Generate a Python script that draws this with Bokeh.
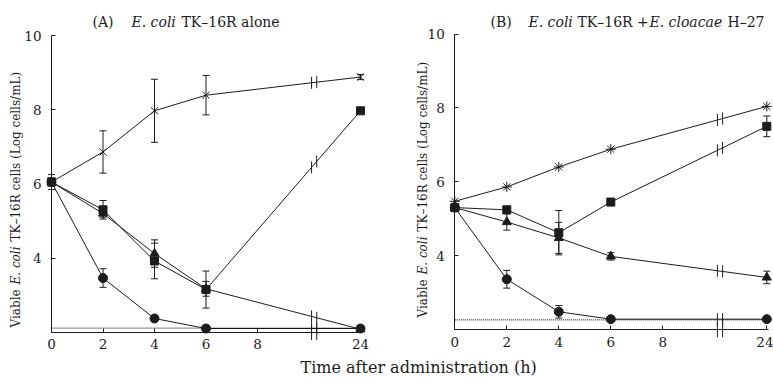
import numpy as np
from bokeh.plotting import figure
from bokeh.layouts import row, column
from bokeh.models import FixedTicker, Label, Range1d, Whisker, ColumnDataSource
from bokeh.embed import file_html
from bokeh.resources import INLINE

# ---------------- data ----------------
hours = [0, 2, 4, 6, 24]
x_tick_hours = [0, 2, 4, 6, 8, 24]
y_ticks = [4, 6, 8, 10]

# Panel A: E. coli TK-16R alone
a_cross = [6.05, 6.86, 7.97, 8.39, 8.88]
a_cross_err = [0.20, 0.57, 0.85, 0.53, 0.07]
a_square = [6.05, 5.30, 3.92, 3.15, 7.97]
a_square_err = [0.10, 0.25, 0.48, 0.50, 0.0]
a_triangle = [6.05, 5.20, 4.12, 3.17, 2.08]
a_triangle_err = [0.10, 0.10, 0.37, 0.20, 0.0]
a_circle = [6.05, 3.46, 2.37, 2.10, 2.10]
a_circle_err = [0.10, 0.25, 0.07, 0.0, 0.0]
a_limit = 2.11

# Panel B: E. coli TK-16R + E. cloacae H-27
b_star = [5.47, 5.86, 6.40, 6.88, 8.04]
b_star_err = [0.0, 0.0, 0.0, 0.0, 0.0]
b_square = [5.30, 5.24, 4.62, 5.45, 7.50]
b_square_err = [0.0, 0.05, 0.60, 0.05, 0.28]
b_triangle = [5.30, 4.91, 4.48, 3.98, 3.41]
b_triangle_err = [0.0, 0.22, 0.42, 0.10, 0.17]
b_circle = [5.30, 3.36, 2.48, 2.28, 2.28]
b_circle_err = [0.0, 0.24, 0.17, 0.02, 0.0]
b_limit = 2.26

# ---------------- style ----------------
INK = "#1c1c1c"
FONT = "DejaVu Serif"
PANEL_H = 355
STRIP_H = 26
BREAK_XS = (10.1, 10.3)
Y_AXIS_MIN = 2


def pos(h):
    # broken time axis: 0-8 h linear, 24 h placed after the break
    return h if h <= 8 else 12


def panel(width, px_x0, px_x12, px_y10, px_y2, series, limit,
          title_parts, ylab_x, ylab_parts):
    height = PANEL_H
    kx = (px_x12 - px_x0) / 12.0
    ky = (px_y2 - px_y10) / 8.0
    xr = Range1d(-px_x0 / kx, (width - px_x0) / kx)
    yr = Range1d(2 - (height - px_y2) / ky, 10 + px_y10 / ky)

    def sx(px):
        return xr.start + px / kx

    def sy(py):
        return yr.end - py / ky

    p = figure(width=width, height=height, x_range=xr, y_range=yr,
               output_backend="svg", toolbar_location=None, min_border=0)
    p.outline_line_color = None
    p.xgrid.visible = False
    p.ygrid.visible = False
    p.background_fill_color = "white"
    p.border_fill_color = "white"

    xa = p.xaxis[0]
    xa.fixed_location = Y_AXIS_MIN
    xa.bounds = (0, 12.07)
    xa.ticker = FixedTicker(ticks=[pos(h) for h in x_tick_hours])
    xa.major_label_overrides = {pos(h): str(h) for h in x_tick_hours}
    ya = p.yaxis[0]
    ya.fixed_location = 0
    ya.bounds = (Y_AXIS_MIN, 10)
    ya.ticker = FixedTicker(ticks=y_ticks)
    for ax in (xa, ya):
        ax.axis_line_color = INK
        ax.axis_line_width = 1
        ax.major_tick_line_color = INK
        ax.major_tick_in = 4
        ax.major_tick_out = 0
        ax.minor_tick_line_color = None
        ax.major_label_text_font = FONT
        ax.major_label_text_font_size = "13.5px"
        ax.major_label_text_color = INK
    xa.major_label_standoff = 7
    ya.major_label_standoff = 10

    xs = [pos(h) for h in hours]

    # connecting lines
    for vals, errs, marker, size in series:
        p.line(xs, vals, line_color=INK, line_width=1)

    # detection limit (dotted)
    p.segment(x0=xs[0], x1=xs[-1], y0=limit, y1=limit,
              line_color="#000000", line_width=1, line_dash="1 1")

    # axis-break marks on each line and on the x axis
    hh = 6.0 / ky
    for vals, errs, marker, size in series:
        for bx in BREAK_XS:
            yb = float(np.interp(bx, xs[-2:], vals[-2:]))
            p.segment(x0=bx, x1=bx, y0=yb - hh, y1=yb + hh,
                      line_color=INK, line_width=1)
    for bx in BREAK_XS:
        p.segment(x0=bx, x1=bx, y0=Y_AXIS_MIN - 1.3 * hh, y1=Y_AXIS_MIN + 1.3 * hh,
                  line_color=INK, line_width=1)

    # error bars
    for vals, errs, marker, size in series:
        bx_, up, lo = [], [], []
        for x, v, e in zip(xs, vals, errs):
            if e > 0:
                bx_.append(x)
                up.append(v + e)
                lo.append(v - e)
        if bx_:
            src = ColumnDataSource(dict(x=bx_, upper=up, lower=lo))
            w = Whisker(base="x", upper="upper", lower="lower", source=src,
                        line_color=INK, line_width=1)
            w.upper_head.size = 7
            w.lower_head.size = 7
            w.upper_head.line_color = INK
            w.lower_head.line_color = INK
            p.add_layout(w)

    # markers
    for vals, errs, marker, size in series:
        p.scatter(xs, vals, marker=marker, size=size,
                  fill_color=INK, line_color=INK, line_width=1)

    # title (mixed roman / italic)
    for text, px, italic in title_parts:
        p.add_layout(Label(x=sx(px), y=sy(21), text=text, text_font=FONT,
                           text_font_size="14px", text_color=INK,
                           text_font_style="italic" if italic else "normal",
                           text_baseline="alphabetic", text_align="left"))

    # rotated y-axis label (mixed roman / italic)
    for text, py, italic in ylab_parts:
        p.add_layout(Label(x=sx(ylab_x), y=sy(py), text=text, text_font=FONT,
                           text_font_size="12px", text_color=INK, angle=np.pi / 2,
                           text_font_style="italic" if italic else "normal",
                           text_baseline="middle", text_align="left"))
    return p


series_a = [
    (a_cross, a_cross_err, "x", 10),
    (a_triangle, a_triangle_err, "triangle", 9),
    (a_circle, a_circle_err, "circle", 9),
    (a_square, a_square_err, "square", 8),
]
series_b = [
    (b_star, b_star_err, "asterisk", 10),
    (b_triangle, b_triangle_err, "triangle", 9),
    (b_circle, b_circle_err, "circle", 9),
    (b_square, b_square_err, "square", 8),
]

title_a = [("(A)", 92, False), ("E. coli", 131, True), ("TK\u201316R alone", 181, False)]
title_b = [("(B)", 100, False), ("E. coli", 138, True), ("TK\u201316R +", 187, False),
           ("E. cloacae", 259, True), ("H\u201327", 337, False)]

ylab_a = [("Viable", 327, False), ("E. coli", 284, True),
          ("TK\u201316R cells  (Log cells/mL)", 241, False)]
ylab_b = [(t, py - 10, it) for t, py, it in ylab_a]

pa = panel(390, 51, 360, 35, 331.7, series_a, a_limit, title_a, 15, ylab_a)
pb = panel(383, 64.3, 376.3, 33.5, 329, series_b, b_limit, title_b, 32, ylab_b)

# shared x-axis title strip
strip = figure(width=773, height=STRIP_H, x_range=Range1d(0, 773), y_range=Range1d(0, STRIP_H),
               output_backend="svg", toolbar_location=None, min_border=0)
strip.outline_line_color = None
strip.axis.visible = False
strip.grid.visible = False
strip.add_layout(Label(x=300, y=STRIP_H / 2 + 1, text="Time after administration  (h)",
                       text_font=FONT, text_font_size="16px", text_color=INK,
                       text_align="left", text_baseline="middle"))

layout = column(row(pa, pb), strip)
open("out.html", "w").write(file_html(layout, INLINE))
